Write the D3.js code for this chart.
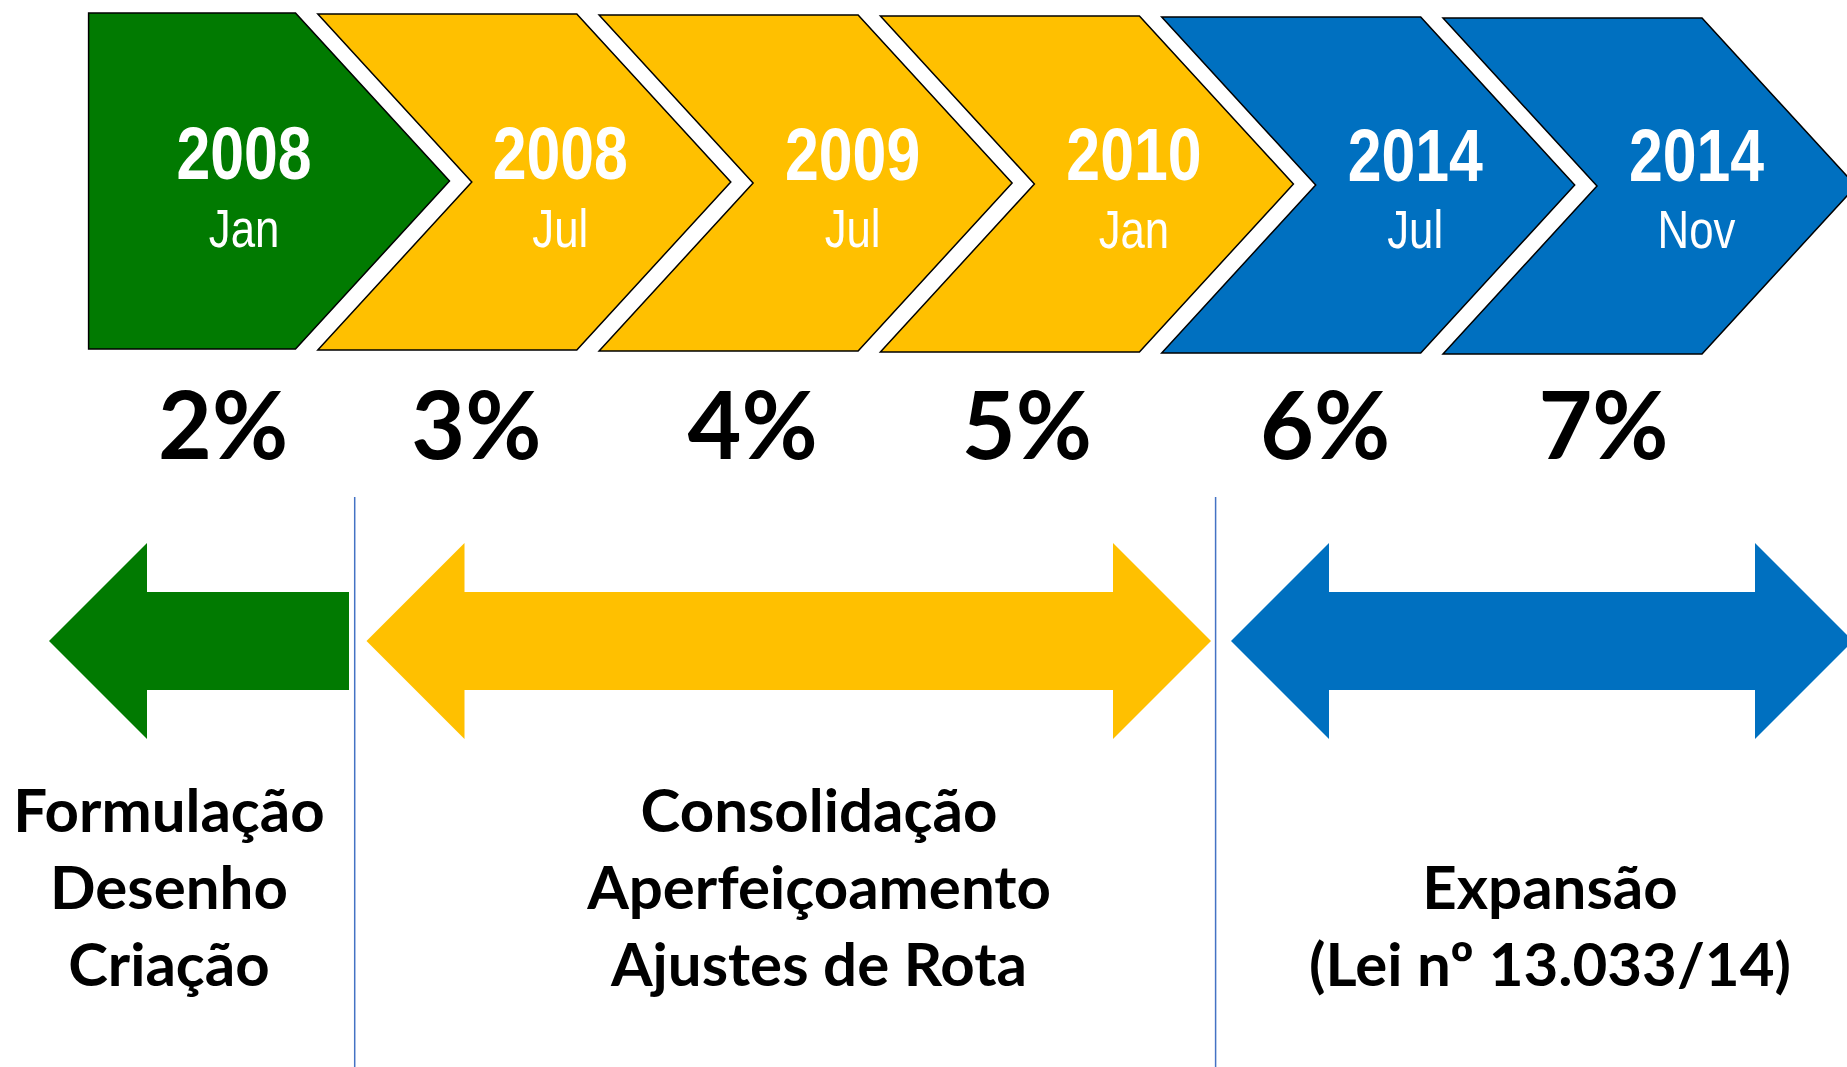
<!DOCTYPE html>
<html>
<head>
<meta charset="utf-8">
<script src="https://cdn.jsdelivr.net/npm/d3@7"></script>
<style>
    body { margin: 0; background: #fff; }
    svg { display: block; }
</style>
</head>
<body>
<svg id="timeline" width="1847" height="1067"></svg>
<script>
// timeline data
const years = ["2008", "2008", "2009", "2010", "2014", "2014"];
const months = ["Jan", "Jul", "Jul", "Jan", "Jul", "Nov"];
const rates = [2, 3, 4, 5, 6, 7];
const stagePhase = [0, 1, 1, 1, 2, 2];

const phaseColors = ["#017A01", "#FFC000", "#0070C0"];
const phaseArrows = ["left", "both", "both"];
const phaseLines = [
    ["Formulação", "Desenho", "Criação"],
    ["Consolidação", "Aperfeiçoamento", "Ajustes de Rota"],
    ["Expansão", "(Lei nº 13.033/14)"],
];

const svg = d3.select("#timeline");

// chevrons
const chevW = 259;   // flat top length
const chevD = 154;   // point depth
const flatLeft = 88.6;
const narrow = 0.81; // no narrow font installed, squeeze instead
const x = d3.scaleLinear().domain([0, 5]).range([36.5, 1443]);
const chevTop = (i) => 13 + i;
const chevBot = (i) => 349 + i;

function chevronPath(i) {
    const l = x(i), t = chevTop(i), b = chevBot(i), m = (t + b) / 2;
    const p = d3.path();
    if (i === 0) {
        p.moveTo(flatLeft, t);
        p.lineTo(l + chevW, t);
        p.lineTo(l + chevW + chevD, m);
        p.lineTo(l + chevW, b);
        p.lineTo(flatLeft, b);
    } else {
        p.moveTo(l, t);
        p.lineTo(l + chevW, t);
        p.lineTo(l + chevW + chevD, m);
        p.lineTo(l + chevW, b);
        p.lineTo(l, b);
        p.lineTo(l + chevD, m);
    }
    p.closePath();
    return p.toString();
}

function labelX(i) {
    const inner = i === 0 ? flatLeft : x(i) + chevD;
    return (inner + x(i) + chevW + chevD) / 2 - 30;
}

const stages = d3.range(years.length);
const labelShift = [5, -11, 0, 0, 0, 0];

const chev = svg.append("g").attr("class", "chevrons")
    .selectAll("g")
    .data(stages)
    .join("g");

chev.append("path")
    .attr("d", chevronPath)
    .attr("fill", (i) => phaseColors[stagePhase[i]])
    .attr("stroke", "#000")
    .attr("stroke-width", 1.5)
    .attr("stroke-linejoin", "miter");

chev.append("text")
    .attr("transform", (i) => `translate(${labelX(i) + labelShift[i]},${179 + i * 0.4}) scale(${narrow},1)`)
    .attr("text-anchor", "middle")
    .attr("fill", "#fff")
    .attr("font-family", "'Liberation Sans', Arial, sans-serif")
    .attr("font-weight", "bold")
    .attr("font-size", 75)
    .text((i) => years[i]);

chev.append("text")
    .attr("transform", (i) => `translate(${labelX(i) + labelShift[i]},${247 + i * 0.2}) scale(${narrow},1)`)
    .attr("text-anchor", "middle")
    .attr("fill", "#fff")
    .attr("font-family", "'Liberation Sans', Arial, sans-serif")
    .attr("font-size", 54)
    .text((i) => months[i]);

// percentages, nudged off the chevron label centres
const rateShift = [-16, -95, -100, -107, -90, -93];
svg.append("g").attr("class", "rates")
    .selectAll("text")
    .data(stages)
    .join("text")
    .attr("x", (i) => labelX(i) + rateShift[i])
    .attr("y", 459)
    .attr("text-anchor", "middle")
    .attr("font-family", "Lato, 'Open Sans', sans-serif")
    .attr("font-weight", "bold")
    .attr("font-size", 93)
    .text((i) => rates[i] + "%");

// phase dividers
const dividers = [354.7, 1215.6];
svg.append("g").selectAll("line")
    .data(dividers)
    .join("line")
    .attr("x1", (d) => d).attr("x2", (d) => d)
    .attr("y1", 497).attr("y2", 1067)
    .attr("stroke", "#4472C4")
    .attr("stroke-width", 1.5);

// phase arrows
const phaseSpan = [[49, 349], [366.5, 1211], [1231, 1853]];
const phaseTextX = [169, 819, 1550];
const cy = 641, headH = 98, shaftH = 49, headL = 98;

function arrowPath(k) {
    const [x0, x1] = phaseSpan[k];
    const p = d3.path();
    p.moveTo(x0, cy);
    p.lineTo(x0 + headL, cy - headH);
    p.lineTo(x0 + headL, cy - shaftH);
    if (phaseArrows[k] === "both") {
        p.lineTo(x1 - headL, cy - shaftH);
        p.lineTo(x1 - headL, cy - headH);
        p.lineTo(x1, cy);
        p.lineTo(x1 - headL, cy + headH);
        p.lineTo(x1 - headL, cy + shaftH);
    } else {
        p.lineTo(x1, cy - shaftH);
        p.lineTo(x1, cy + shaftH);
    }
    p.lineTo(x0 + headL, cy + shaftH);
    p.lineTo(x0 + headL, cy + headH);
    p.closePath();
    return p.toString();
}

const phases = d3.range(phaseLines.length);

svg.append("g").attr("class", "arrows")
    .selectAll("path")
    .data(phases)
    .join("path")
    .attr("d", arrowPath)
    .attr("fill", (k) => phaseColors[k]);

// phase descriptions, bottom aligned
const lineH = 77, lastBase = 986;
const desc = svg.append("g").attr("class", "desc")
    .selectAll("text")
    .data(phases)
    .join("text")
    .attr("text-anchor", "middle")
    .attr("font-family", "Lato, 'Open Sans', sans-serif")
    .attr("font-weight", "bold")
    .attr("font-size", 60)
    .attr("fill", "#000");

desc.selectAll("tspan")
    .data((k) => phaseLines[k].map((t, j) => ({ k, t, j, n: phaseLines[k].length })))
    .join("tspan")
    .attr("x", (d) => phaseTextX[d.k])
    .attr("y", (d) => lastBase - (d.n - 1 - d.j) * lineH)
    .text((d) => d.t);
</script>
</body>
</html>
